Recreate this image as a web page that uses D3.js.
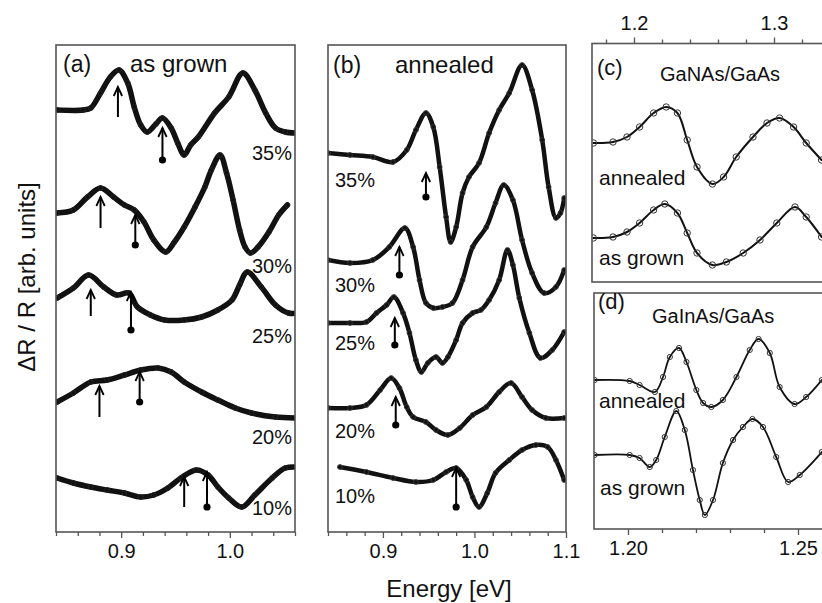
<!DOCTYPE html>
<html><head><meta charset="utf-8">
<script src="https://cdn.jsdelivr.net/npm/d3@7"></script>
<style>html,body{margin:0;padding:0;background:#fff;} svg{display:block;}</style>
</head><body>
<script>
// ---------------- DATA (energies in eV, ΔR/R in arb. units incl. offsets) ----------------
// Panel (a) as grown
const aE35 = [0.841,0.865,0.872,0.881,0.890,0.898,0.906,0.912,0.918,0.924,0.932,0.938,0.946,0.952,0.958,0.964,0.971,0.986,0.999,1.012,1.023,1.033,1.042,1.051,1.062];
const aV35 = [42.2,42.2,42.4,43.9,45.5,46.2,44.9,42.5,40.7,40.0,40.8,41.4,40.4,38.9,37.7,38.7,39.5,41.9,43.5,45.9,44.2,41.9,40.4,40.0,39.9];
const aE30 = [0.841,0.856,0.869,0.881,0.893,0.903,0.912,0.921,0.930,0.941,0.949,0.958,0.968,0.977,0.983,0.991,0.997,1.003,1.009,1.014,1.019,1.026,1.036,1.045,1.053];
const aV30 = [31.9,32.2,33.5,34.4,33.5,32.7,32.2,31.0,29.2,28.0,29.0,30.5,32.5,34.5,36.2,37.7,35.9,33.2,30.2,28.5,27.9,28.5,30.0,31.7,32.7];
const aE25 = [0.841,0.856,0.870,0.884,0.896,0.907,0.915,0.927,0.940,0.958,0.974,0.989,1.002,1.009,1.016,1.029,1.042,1.054,1.062];
const aV25 = [23.4,24.4,25.7,24.5,23.7,23.9,22.5,21.7,21.2,21.2,21.5,22.2,23.2,24.7,26.0,24.5,22.7,21.9,21.9];
const aE20 = [0.841,0.856,0.872,0.887,0.903,0.918,0.934,0.946,0.958,0.974,0.989,1.005,1.020,1.042,1.062];
const aV20 = [13.0,13.9,15.0,15.2,15.7,16.2,16.4,16.0,15.0,14.0,13.2,12.4,11.9,11.5,11.4];
const aE10 = [0.841,0.856,0.872,0.887,0.903,0.918,0.930,0.943,0.955,0.969,0.980,0.989,0.999,1.011,1.023,1.039,1.051,1.062];
const aV10 = [5.4,4.9,4.5,4.2,3.9,3.5,3.7,4.4,5.4,6.2,5.7,4.5,3.4,2.5,3.7,5.4,6.4,6.5];
const aLabels = ["35%","30%","25%","20%","10%"];
// arrows in (a): energy, tip value, base value, filled-dot flag
const aArrowE    = [0.897,0.938,0.881,0.913,0.872,0.909,0.880,0.917,0.958,0.979];
const aArrowTip  = [44.5,40.4,33.5,31.7,24.2,24.0,14.6,16.0,5.5,6.0];
const aArrowBase = [41.5,37.2,30.4,28.7,21.6,20.2,11.5,13.0,2.5,2.5];
const aArrowDot  = [0,1,0,1,0,1,0,1,0,1];

// Panel (b) annealed
const bE35 = [0.840,0.864,0.889,0.911,0.926,0.936,0.947,0.955,0.962,0.969,0.974,0.980,0.987,0.994,1.005,1.016,1.027,1.038,1.052,1.063,1.074,1.081,1.089,1.094,1.098];
const bV35 = [37.9,37.7,37.5,37.0,38.2,40.2,41.9,40.5,36.5,31.5,29.0,30.5,33.9,35.5,36.9,39.9,42.2,43.9,46.7,44.2,39.2,34.5,31.4,31.9,33.4];
const bE30 = [0.840,0.864,0.889,0.907,0.924,0.933,0.940,0.947,0.955,0.965,0.976,0.987,0.998,1.013,1.023,1.032,1.042,1.052,1.063,1.076,1.089,1.098];
const bV30 = [27.2,26.9,27.2,28.5,30.4,28.5,25.2,22.9,22.4,22.5,22.9,25.2,28.5,30.5,32.9,34.7,33.2,29.2,25.9,23.9,24.5,26.2];
const bE25 = [0.840,0.864,0.882,0.893,0.904,0.912,0.922,0.929,0.936,0.942,0.949,0.958,0.965,0.971,0.980,0.987,0.998,1.007,1.016,1.027,1.036,1.042,1.049,1.060,1.072,1.085,1.098];
const bV25 = [20.9,20.9,21.0,21.9,22.7,23.5,21.9,19.9,17.2,16.0,16.9,17.5,16.9,17.5,19.2,20.9,21.9,22.2,23.2,25.2,28.2,26.7,23.4,19.9,17.4,18.2,20.0];
const bE20 = [0.840,0.864,0.882,0.897,0.909,0.918,0.926,0.933,0.947,0.958,0.971,0.984,0.998,1.013,1.027,1.040,1.052,1.063,1.078,1.098];
const bV20 = [12.4,12.4,12.7,14.2,15.4,14.4,12.5,11.5,11.0,10.2,9.7,10.4,11.7,12.5,14.0,14.9,13.5,12.2,11.4,11.4];
const bE10 = [0.853,0.882,0.911,0.936,0.955,0.969,0.980,0.991,0.998,1.005,1.014,1.023,1.038,1.052,1.067,1.080,1.089,1.098];
const bV10 = [6.5,6.0,5.4,5.0,5.2,6.0,6.4,5.2,3.5,2.5,3.9,5.9,7.2,8.2,8.7,8.5,7.2,5.2];
const bLabels = ["35%","30%","25%","20%","10%"];
const bArrowE    = [0.947,0.918,0.913,0.914,0.980];
const bArrowTip  = [35.9,28.5,21.4,13.5,6.4];
const bArrowBase = [33.5,25.7,18.7,10.7,2.5];

// Panel (c) GaNAs/GaAs
const cEann = [1.171,1.185,1.195,1.204,1.214,1.223,1.231,1.238,1.245,1.256,1.264,1.273,1.285,1.295,1.304,1.314,1.323,1.334];
const cVann = [13.9,14.0,14.5,15.5,16.9,17.5,16.9,14.2,11.5,9.8,10.5,12.5,14.5,15.9,16.4,15.5,13.9,12.2];
const cEgr  = [1.171,1.185,1.195,1.204,1.214,1.222,1.231,1.238,1.245,1.256,1.266,1.278,1.290,1.302,1.315,1.323,1.334];
const cVgr  = [4.4,4.5,5.0,5.9,7.2,7.8,6.9,4.9,2.9,1.7,2.0,2.9,4.2,5.9,7.5,6.5,4.5];

// Panel (d) GaInAs/GaAs
const dEann = [1.1902,1.2005,1.2034,1.2079,1.2103,1.2123,1.2150,1.2172,1.2201,1.2221,1.2245,1.2279,1.2319,1.2358,1.2384,1.2417,1.2446,1.2490,1.2524,1.2570];
const dVann = [14.9,14.8,14.4,13.7,15.2,17.2,18.1,16.7,13.9,12.6,12.2,12.9,15.2,17.9,19.0,17.6,14.2,12.5,13.2,14.9];
const dEgr  = [1.1902,1.2005,1.2034,1.2064,1.2083,1.2108,1.2142,1.2167,1.2191,1.2211,1.2226,1.2250,1.2279,1.2309,1.2338,1.2366,1.2397,1.2436,1.2471,1.2505,1.2570];
const dVgr  = [7.4,7.4,7.1,6.2,6.9,9.2,11.8,9.9,5.9,2.9,1.4,2.9,6.6,8.9,10.2,11.0,10.2,7.2,4.7,5.4,7.7];

// tick values
const abTicks = [0.84,0.86,0.88,0.90,0.92,0.94,0.96,0.98,1.00,1.02,1.04,1.06,1.08,1.10];
const abMajor = [0.9,1.0,1.1];
const cTicks = [1.18,1.20,1.22,1.24,1.26,1.28,1.30,1.32];
const cMajor = [1.2,1.3];
const dTicks = [1.20,1.21,1.22,1.23,1.24,1.25];
const dMajor = [1.20,1.25];

// ---------------- LAYOUT ----------------
const W = 822, H = 603;
const FONT = "'Liberation Sans', Arial, Helvetica, sans-serif";
const svg = d3.select("body").append("svg").attr("width", W).attr("height", H)
  .style("font-family", FONT);
svg.append("rect").attr("width", W).attr("height", H).attr("fill", "#fff");

const xA = d3.scaleLinear().domain([0.84, 1.06]).range([56, 295]);
const xB = d3.scaleLinear().domain([0.84, 1.10]).range([328, 566]);
const yAB = d3.scaleLinear().domain([0, 48.7]).range([532, 45]);
const xC = d3.scaleLinear().domain([1.17, 1.34]).range([592, 830]);
const yC = d3.scaleLinear().domain([0, 23.85]).range([282, 43.5]);
const xD = d3.scaleLinear().domain([1.19, 1.26]).range([594, 832]);
const yD = d3.scaleLinear().domain([0, 23.6]).range([529, 293]);

const FRAME = "#555";
const near = (v, arr) => arr.some(m => Math.abs(m - v) < 1e-6);

function panel(id, x, y) {
  const [x0, x1] = x.range(); const [y0, y1] = y.range();
  const g = svg.append("g");
  svg.append("clipPath").attr("id", id).append("rect")
    .attr("x", x0).attr("y", y1).attr("width", x1 - x0).attr("height", y0 - y1);
  const plot = g.append("g").attr("clip-path", `url(#${id})`);
  g.append("rect").attr("x", x0).attr("y", y1).attr("width", x1 - x0).attr("height", y0 - y1)
    .attr("fill", "none").attr("stroke", FRAME).attr("stroke-width", 1.6);
  return {g, plot};
}

function styleAxis(sel, major, labelY, fmt) {
  sel.select(".domain").remove();
  sel.selectAll(".tick line").attr("stroke", FRAME).attr("stroke-width", 1.3)
    .attr("y2", function(d){ const s = Math.sign(+d3.select(this).attr("y2")); return s * (near(d, major) ? 6 : 4); });
  sel.selectAll(".tick text").attr("y", labelY).attr("dy", null)
    .style("font-size", "20px").style("font-family", FONT).attr("fill", "#111");
}

function curve(plot, x, y, E, V, width, markerR, markerStroke) {
  const pts = E.map((e, i) => [e, V[i]]);
  const line = d3.line().x(d => x(d[0])).y(d => y(d[1])).curve(d3.curveCatmullRom.alpha(0.5));
  plot.append("path").datum(pts).attr("d", line).attr("fill", "none")
    .attr("stroke", "#111").attr("stroke-width", width).attr("stroke-linejoin", "round").attr("stroke-linecap", "round");
  plot.selectAll(null).data(pts).enter().append("circle")
    .attr("cx", d => x(d[0])).attr("cy", d => y(d[1])).attr("r", markerR)
    .attr("fill", "none").attr("stroke", markerStroke).attr("stroke-width", 1);
}

function arrow(g, x, y, e, tip, base, dot) {
  const px = x(e), yt = y(tip), yb = y(base);
  g.append("line").attr("x1", px).attr("x2", px).attr("y1", yb).attr("y2", yt)
    .attr("stroke", "#000").attr("stroke-width", 2);
  g.append("path").attr("d", `M${px-4.2},${yt+9} L${px},${yt} L${px+4.2},${yt+9}`)
    .attr("fill", "none").attr("stroke", "#000").attr("stroke-width", 1.8);
  if (dot) g.append("circle").attr("cx", px).attr("cy", yb).attr("r", 3.6).attr("fill", "#000");
}

function label(g, txt, x, y, size, anchor) {
  g.append("text").attr("x", x).attr("y", y).attr("text-anchor", anchor || "start")
    .style("font-size", size + "px").attr("fill", "#111").text(txt);
}

// ---- Panel (a)
const A = panel("clipA", xA, yAB);
[[aE35,aV35],[aE30,aV30],[aE25,aV25],[aE20,aV20],[aE10,aV10]].forEach(([E,V]) =>
  curve(A.plot, xA, yAB, E, V, 5.5, 2.4, "#222"));
aArrowE.forEach((e, i) => arrow(A.g, xA, yAB, e, aArrowTip[i], aArrowBase[i], aArrowDot[i]));
A.g.append("g").attr("transform", `translate(0,${yAB(0)})`)
  .call(d3.axisBottom(xA).tickValues(abTicks.filter(t => t <= 1.0601)).tickSize(4)
    .tickFormat(d => near(d, abMajor) ? d3.format(".1f")(d) : ""))
  .call(s => styleAxis(s, abMajor, 26));
label(A.g, "(a)", 63, 72, 23);
label(A.g, "as grown", 130, 72, 24);
const aLabY = [160, 273, 343, 444, 515];
aLabels.forEach((t, i) => label(A.g, t, 292, aLabY[i], 20, "end"));

// ---- Panel (b)
const B = panel("clipB", xB, yAB);
[[bE35,bV35],[bE30,bV30],[bE25,bV25],[bE20,bV20],[bE10,bV10]].forEach(([E,V]) =>
  curve(B.plot, xB, yAB, E, V, 4.5, 2.4, "#333"));
bArrowE.forEach((e, i) => arrow(B.g, xB, yAB, e, bArrowTip[i], bArrowBase[i], 1));
B.g.append("g").attr("transform", `translate(0,${yAB(0)})`)
  .call(d3.axisBottom(xB).tickValues(abTicks).tickSize(4)
    .tickFormat(d => near(d, abMajor) ? d3.format(".1f")(d) : ""))
  .call(s => styleAxis(s, abMajor, 26));
label(B.g, "(b)", 333, 73, 23);
label(B.g, "annealed", 395, 73, 24);
const bLabY = [187, 292, 350, 438, 503];
bLabels.forEach((t, i) => label(B.g, t, 335, bLabY[i], 20, "start"));

// ---- Panel (c)
const C = panel("clipC", xC, yC);
curve(C.plot, xC, yC, cEann, cVann, 2, 3.2, "#333");
curve(C.plot, xC, yC, cEgr, cVgr, 2, 3.2, "#333");
C.g.append("g").attr("transform", `translate(0,${yC.range()[1]})`)
  .call(d3.axisTop(xC).tickValues(cTicks).tickSize(4)
    .tickFormat(d => near(d, cMajor) ? d3.format(".1f")(d) : ""))
  .call(s => styleAxis(s, cMajor, -14));
label(C.g, "(c)", 597, 75, 22);
label(C.g, "GaNAs/GaAs", 660, 81, 20);
label(C.g, "annealed", 599, 185, 21);
label(C.g, "as grown", 599, 265, 21);

// ---- Panel (d)
const D = panel("clipD", xD, yD);
curve(D.plot, xD, yD, dEann, dVann, 1.8, 2.6, "#333");
curve(D.plot, xD, yD, dEgr, dVgr, 1.8, 2.6, "#333");
D.g.append("g").attr("transform", `translate(0,${yD(0)})`)
  .call(d3.axisBottom(xD).tickValues(dTicks).tickSize(4)
    .tickFormat(d => near(d, dMajor) ? d3.format(".2f")(d) : ""))
  .call(s => styleAxis(s, dMajor, 26));
label(D.g, "(d)", 598, 309, 22);
label(D.g, "GaInAs/GaAs", 652, 323, 20);
label(D.g, "annealed", 599, 408, 21);
label(D.g, "as grown", 600, 495, 21);

// ---- Axis titles
svg.append("text").attr("x", 449).attr("y", 597).attr("text-anchor", "middle")
  .style("font-size", "24px").attr("fill", "#111").text("Energy [eV]");
svg.append("text").attr("transform", "translate(35,277) rotate(-90)").attr("text-anchor", "middle")
  .style("font-size", "24px").attr("fill", "#111").text("ΔR / R [arb. units]");
</script>
</body></html>
